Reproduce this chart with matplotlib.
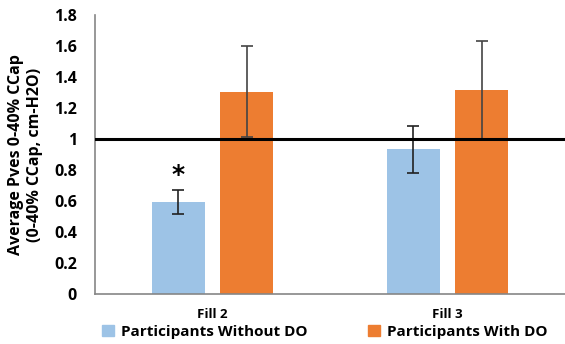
import matplotlib
matplotlib.use("Agg")
import matplotlib.pyplot as plt
import numpy as np
from matplotlib.patches import Patch

categories = ["Fill 2", "Fill 3"]
series_names = ["Participants Without DO", "Participants With DO"]
without_do = [0.595, 0.935]
without_err = [0.079, 0.152]
with_do = [1.307, 1.314]
with_err = [0.295, 0.318]
y_ticks = [0, 0.2, 0.4, 0.6, 0.8, 1, 1.2, 1.4, 1.6, 1.8]
y_tick_labels = ["0", "0.2", "0.4", "0.6", "0.8", "1", "1.2", "1.4", "1.6", "1.8"]
ref_line = 1.0

plt.rcParams['font.family'] = ['Open Sans', 'DejaVu Sans']
plt.rcParams['font.weight'] = 'bold'

blue = "#9DC3E6"
orange = "#ED7D31"
axis_gray = "#868686"

fig = plt.figure(figsize=(5.65, 3.44), dpi=100)
ax = fig.add_axes([0.168, 0.145, 0.832, 0.811])

x = np.arange(len(categories))
w = 0.227
off = 0.145
ax.bar(x - off, without_do, w, color=blue, zorder=2)
ax.bar(x + off, with_do, w, color=orange, zorder=2)
ax.errorbar(x - off, without_do, yerr=without_err, fmt='none', ecolor='#222222',
            elinewidth=1.2, capsize=4.5, capthick=1.2, zorder=3)
ax.errorbar(x + off, with_do, yerr=with_err, fmt='none', ecolor='#444444',
            elinewidth=1.2, capsize=4.5, capthick=1.2, zorder=3)
ax.axhline(ref_line, color='black', lw=2.2, zorder=4)

ax.text(x[0] - off, without_do[0] + without_err[0] + 0.015, "*", ha='center', va='bottom',
        fontsize=18, fontweight='bold', family=['DejaVu Sans'])

ax.set_xlim(-0.5, 1.5)
ax.set_ylim(0, 1.8)
ax.set_yticks(y_ticks)
ax.set_yticklabels(y_tick_labels, fontsize=11.5, fontweight='bold')
ax.set_xticks(x)
ax.set_xticklabels(categories, fontsize=9.5, fontweight='bold')
ax.tick_params(axis='y', length=0, pad=13)
ax.tick_params(axis='x', length=0, pad=10)
for s in ['top', 'right']:
    ax.spines[s].set_visible(False)
for s in ['left', 'bottom']:
    ax.spines[s].set_color(axis_gray)
    ax.spines[s].set_linewidth(1.2)

ax.set_ylabel("Average Pves 0-40% CCap\n(0-40% CCap, cm-H2O)", fontsize=11.5,
              fontweight='bold', labelpad=8, linespacing=1.2)

handles = [Patch(color=blue, label=series_names[0]), Patch(color=orange, label=series_names[1])]
fig.legend(handles=handles, loc='lower center', bbox_to_anchor=(0.575, -0.025), ncol=2,
           frameon=False, handlelength=0.75, handleheight=0.75,
           handletextpad=0.45, columnspacing=4.0, prop={'weight': 'bold', 'size': 11})

fig.savefig("out.png", dpi=100)
